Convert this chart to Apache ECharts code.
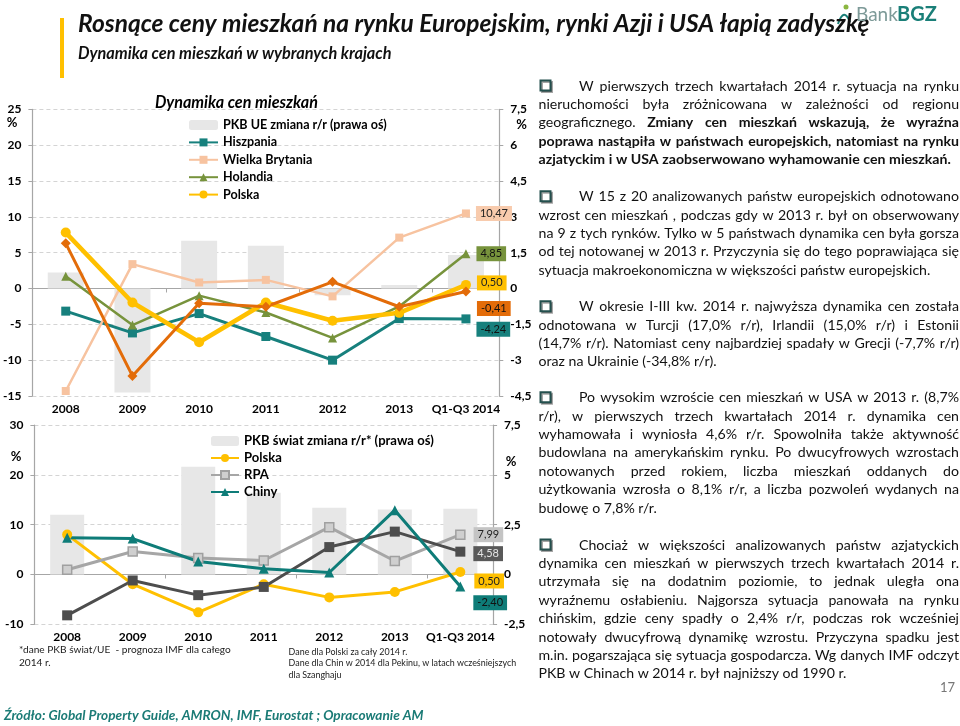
<!DOCTYPE html>
<html><head><meta charset="utf-8">
<script src="https://cdn.jsdelivr.net/npm/echarts@6/dist/echarts.min.js"></script>
<style>html,body{margin:0;padding:0;background:#fff}#c{width:960px;height:726px}</style>
</head><body><div id="c"></div>
<script>
// ---------------- DATA ----------------
const categories = ['2008','2009','2010','2011','2012','2013','Q1-Q3 2014'];
// Top chart (left axis %, bars on right axis %)
const pkbUE      = [0.67, -4.35, 2.0, 1.79, -0.28, 0.15, 1.4];
const hiszpania  = [-3.16, -6.2, -3.5, -6.7, -10.0, -4.2, -4.24];
const wielkaBrytania = [-14.3, 3.4, 0.84, 1.2, -1.1, 7.1, 10.47];
const holandia   = [1.7, -5.1, -1.0, -3.35, -6.9, -2.5, 4.85];
const polskaEU   = [7.8, -1.95, -7.5, -1.95, -4.5, -3.4, 0.50];
const seriaPomaranczowa = [6.3, -12.2, -2.05, -2.55, 0.93, -2.55, -0.41];
// Bottom chart
const pkbSwiat   = [3.0, 0, 5.4, 4.1, 3.35, 3.26, 3.3];
const polskaSw   = [8.0, -1.95, -7.6, -1.95, -4.6, -3.5, 0.50];
const rpa        = [0.94, 4.6, 3.3, 2.8, 9.5, 2.7, 7.99];
const seriaSzara = [-8.2, -1.2, -4.15, -2.5, 5.5, 8.6, 4.58];
const chiny      = [7.36, 7.2, 2.6, 1.14, 0.4, 12.9, -2.4];
// Axis ranges
const topLeftAxis = {min:-15, max:25, interval:5};
const topRightAxis = {min:-4.5, max:7.5, interval:1.5};
const botLeftAxis = {min:-10, max:30, interval:10};
const botRightAxis = {min:-2.5, max:7.5, interval:2.5};

// ---------------- TEXT ----------------
const titleText = 'Rosnące ceny mieszkań na rynku Europejskim, rynki Azji i USA łapią zadyszkę';
const subtitleText = 'Dynamika cen mieszkań w wybranych krajach';
const chartTitle = 'Dynamika cen mieszkań';
const sourceText = 'Źródło: Global Property Guide, AMRON, IMF, Eurostat ; Opracowanie AM';
const paragraphs = [
 {y0:86, lines:[
  [['W pierwszych trzech kwartałach 2014 r. sytuacja na rynku',0]],
  [['nieruchomości była zróżnicowana w zależności od regionu',0]],
  [['geograficznego.',0],['Zmiany cen mieszkań wskazują, że wyraźna',1]],
  [['poprawa nastąpiła w państwach europejskich, natomiast na rynku',1]],
  [['azjatyckim i w USA zaobserwowano wyhamowanie cen mieszkań.',1]]]},
 {y0:196.7, lines:[
  [['W 15 z 20 analizowanych państw europejskich odnotowano',0]],
  [['wzrost cen mieszkań , podczas gdy w 2013 r. był on obserwowany',0]],
  [['na 9 z tych rynków. Tylko w 5 państwach dynamika cen była gorsza',0]],
  [['od tej notowanej w 2013 r.  Przyczynia się do tego poprawiająca się',0]],
  [['sytuacja makroekonomiczna w większości państw europejskich.',0]]]},
 {y0:306.7, lines:[
  [['W okresie I-III kw. 2014 r. najwyższa dynamika cen została',0]],
  [['odnotowana w Turcji (17,0% r/r), Irlandii (15,0% r/r) i Estonii',0]],
  [['(14,7% r/r). Natomiast ceny najbardziej spadały w Grecji (-7,7% r/r)',0]],
  [['oraz na Ukrainie (-34,8% r/r).',0]]]},
 {y0:397.7, lines:[
  [['Po wysokim wzroście cen mieszkań w USA w 2013 r. (8,7%',0]],
  [['r/r), w  pierwszych trzech kwartałach 2014 r. dynamika cen',0]],
  [['wyhamowała i wyniosła 4,6% r/r. Spowolniła także aktywność',0]],
  [['budowlana na amerykańskim rynku. Po dwucyfrowych wzrostach',0]],
  [['notowanych przed rokiem, liczba mieszkań oddanych do',0]],
  [['użytkowania wzrosła o 8,1% r/r, a liczba pozwoleń wydanych na',0]],
  [['budowę o 7,8% r/r.',0]]]},
 {y0:545, lines:[
  [['Chociaż w większości analizowanych państw azjatyckich',0]],
  [['dynamika cen mieszkań w pierwszych trzech kwartałach 2014 r.',0]],
  [['utrzymała się na dodatnim poziomie, to jednak  uległa ona',0]],
  [['wyraźnemu osłabieniu. Najgorsza sytuacja panowała na rynku',0]],
  [['chińskim, gdzie ceny spadły o 2,4% r/r, podczas rok wcześniej',0]],
  [['notowały dwucyfrową dynamikę wzrostu. Przyczyna spadku jest',0]],
  [['m.in. pogarszająca się sytuacja gospodarcza. Wg danych IMF odczyt',0]],
  [['PKB w Chinach w 2014 r. był najniższy od 1990 r.',0]]]}
];

// ---------------- HELPERS ----------------
const FF = 'Lato, "Open Sans", "DejaVu Sans", sans-serif';
const cv = document.createElement('canvas').getContext('2d');
function tw(t, size, weight, style){ cv.font = (style||'normal')+' '+(weight||'normal')+' '+size+'px Lato'; return cv.measureText(t).width; }
function fit(t, target, weight, style){ return 20*target/tw(t,20,weight,style); }
const fmt2 = v => v.toFixed(2).replace('.', ',');
const fmtAx = v => String(v).replace('.', ',');

const axisFs = 12;
const yAxisFs = 12;
const bodyFs = fit('sytuacja makroekonomiczna w większości państw europejskich.', 392);

function txt(text, x, y, size, opts){
  opts = opts||{};
  return {type:'text', x:x, y:y, z:50, silent:true, style:{text:text, fontSize:size, fontFamily:FF,
    fontWeight:opts.weight||'normal', fontStyle:opts.style||'normal', fill:opts.fill||'#000',
    align:opts.align||'left', verticalAlign:'middle'}};
}

function buildLine(segs, x0, x1, y, justify){
  const words = [];
  segs.forEach(s => s[0].split(/\s+/).filter(Boolean).forEach(w => words.push([w, s[1]])));
  const widths = words.map(w => tw(w[0], bodyFs, w[1]?'bold':'normal'));
  const sum = widths.reduce((a,b)=>a+b,0);
  const W = x1 - x0;
  const sp = tw(' ', bodyFs);
  let gap = (justify && words.length>1) ? (W-sum)/(words.length-1) : sp;
  if (gap < sp*0.5) gap = sp*0.5;
  const total = sum + gap*(words.length-1);
  const scale = total > W ? W/total : 1;
  const text = words.map((w,i) => (i ? '{g| }' : '') + '{' + (w[1]?'b':'n') + '|' + w[0] + '}').join('');
  return {type:'text', x:x0, y:y, scaleX:scale, z:50, silent:true, style:{text:text, fontSize:bodyFs, fontFamily:FF, fill:'#111', verticalAlign:'middle',
    rich:{n:{fontSize:bodyFs, fontFamily:FF, fill:'#111', color:'#111'},
          b:{fontSize:bodyFs, fontFamily:FF, fontWeight:'bold', fill:'#111', color:'#111'},
          g:{fontSize:bodyFs, fontFamily:FF, width:gap}}}};
}

const graphics = [];
// header
graphics.push({type:'rect', shape:{x:60, y:18, width:4, height:60}, style:{fill:'#ffc000'}, silent:true});
graphics.push(txt(titleText, 78, 24, fit(titleText, 792, 'bold', 'italic'), {weight:'bold', style:'italic', fill:'#111'}));
graphics.push(txt(subtitleText, 78, 54, fit(subtitleText, 314, 'bold', 'italic'), {weight:'bold', style:'italic', fill:'#111'}));
// logo
graphics.push({type:'circle', shape:{cx:846, cy:7, r:2.5}, style:{fill:'#8bb640'}, silent:true});
graphics.push({type:'bezierCurve', shape:{x1:838, y1:24, x2:850, y2:22, cpx1:842, cpy1:12, cpx2:846, cpy2:12}, style:{stroke:'#1a7f78', lineWidth:2, fill:null}, silent:true});
graphics.push(txt('Bank', 856, 15, 19, {fill:'#7d9a98'}));
graphics.push(txt('BGZ', 897, 15, 20, {weight:'bold', fill:'#1a7f78'}));
// chart annotations
graphics.push(txt(chartTitle, 155, 103, fit(chartTitle, 163, 'bold', 'italic'), {weight:'bold', style:'italic'}));
graphics.push(txt('%', 12, 123.3, yAxisFs+1, {weight:'bold', align:'center'}));
graphics.push(txt('%', 521.5, 125, yAxisFs+1, {weight:'bold', align:'center'}));
graphics.push(txt('%', 16, 457, yAxisFs+1, {weight:'bold', align:'center'}));
graphics.push(txt('%', 511, 461.7, yAxisFs+1, {weight:'bold', align:'center'}));
const fn1 = '*dane PKB świat/UE  - prognoza IMF dla całego';
const fnSize = fit(fn1, 212);
graphics.push(txt(fn1, 19, 650, fnSize, {fill:'#222'}));
graphics.push(txt('2014 r.', 19, 663, fnSize, {fill:'#222'}));
const fn3 = 'Dane dla Chin w 2014 dla Pekinu, w latach wcześniejszych';
const fn3Size = fit(fn3, 228);
graphics.push(txt('Dane dla Polski za cały 2014 r.', 288.6, 652, fn3Size, {fill:'#222'}));
graphics.push(txt(fn3, 288.6, 663.5, fn3Size, {fill:'#222'}));
graphics.push(txt('dla Szanghaju', 288.6, 675, fn3Size, {fill:'#222'}));
graphics.push(txt(sourceText, 4, 716, fit(sourceText, 420, 'bold', 'italic'), {weight:'bold', style:'italic', fill:'#1b7b76'}));
graphics.push(txt('17', 955, 688, 13, {fill:'#777', align:'right'}));
// right text block
const LH = 18.4;
paragraphs.forEach(p => {
  graphics.push({type:'rect', shape:{x:540.5, y:p.y0-5.5, width:10, height:10}, style:{fill:'#fff', stroke:'#24504e', lineWidth:2, shadowColor:'rgba(0,0,0,0.35)', shadowOffsetX:1.5, shadowOffsetY:1.5}, silent:true});
  p.lines.forEach((segs, i) => {
    const last = i === p.lines.length - 1;
    graphics.push(buildLine(segs, i===0 ? 579 : 538.5, 959, p.y0 + i*LH, !last));
  });
});

// ---------------- CHART ----------------
function endLbl(bg, color, dist, dy){
  return {show:true, position:'right', distance:dist, offset:[0,dy], formatter:p => fmt2(p.value),
    backgroundColor:bg, color:color, padding:[2,4,2,4], fontSize:11, lineHeight:11, fontFamily:FF};
}
const withEnd = (arr, lbl) => arr.map((v,i) => i === arr.length-1 ? {value:v, label:lbl} : v);
function lineSeries(name, data, gi, color, symbol, symSize, width, lbl, symColor, symBorder){
  return {name:name, type:'line', xAxisIndex:gi*2, yAxisIndex:gi*2, data:withEnd(data, lbl),
    symbol:symbol, symbolSize:symSize, showSymbol:true,
    lineStyle:{color:color, width:width}, itemStyle:{color:symColor||color, borderColor:symBorder||color, borderWidth:symBorder?1.5:0},
    emphasis:{disabled:true}, z:3};
}
function xAxes(gi, margin){
  return [
    {gridIndex:gi, type:'category', data:categories, position:'bottom', axisLine:{show:false, onZero:false}, axisTick:{show:false},
     axisLabel:{interval:0, fontWeight:'bold', fontSize:axisFs, fontFamily:FF, color:'#000', margin:margin}},
    {gridIndex:gi, type:'category', data:categories, position:'bottom', axisLine:{show:true, onZero:true, lineStyle:{color:'#a6a6a6', width:1.2}},
     axisTick:{show:true, length:4, lineStyle:{color:'#a6a6a6'}}, axisLabel:{show:false}}
  ];
}
function yAx(gi, pos, r, margin, split){
  return {gridIndex:gi, type:'value', position:pos, min:r.min, max:r.max, interval:r.interval,
    axisLine:{show:true, lineStyle:{color:'#a6a6a6', width:1.2}}, axisTick:{show:true, length:4, lineStyle:{color:'#a6a6a6'}},
    axisLabel:{fontWeight:'bold', fontSize:yAxisFs, fontFamily:FF, color:'#000', margin:margin, formatter:fmtAx},
    splitLine:{show:split, lineStyle:{color:'#d4d4d4', type:[4,3], width:1}}};
}
const legTop = fit('PKB UE zmiana r/r (prawa oś)', 164, 'bold');
const legBot = fit('PKB świat zmiana r/r* (prawa oś)', 190, 'bold');

const teal = '#17807d', peach = '#f7c3a0', olive = '#77933c', yellow = '#ffc000', orange = '#e36c09';
const option = {
  animation:false,
  backgroundColor:'#ffffff',
  grid:[{left:30.3, top:109.3, width:469, height:286.7}, {left:34.4, top:425, width:458.7, height:199.3}],
  xAxis:[].concat(xAxes(0, 7), xAxes(1, 7)),
  yAxis:[yAx(0,'left',topLeftAxis,11,true), yAx(0,'right',topRightAxis,11,false),
         yAx(1,'left',botLeftAxis,11,true), yAx(1,'right',botRightAxis,11,false)],
  legend:[
    {orient:'vertical', left:188, top:116.3, padding:0, itemGap:0, itemWidth:29, itemHeight:10, selectedMode:false,
     textStyle:{fontWeight:'bold', fontSize:legTop, fontFamily:FF, color:'#000', lineHeight:17.4},
     data:['PKB UE zmiana r/r (prawa oś)','Hiszpania','Wielka Brytania','Holandia','Polska']},
    {orient:'vertical', left:210, top:432.5, padding:0, itemGap:0, itemWidth:28, itemHeight:10, selectedMode:false,
     textStyle:{fontWeight:'bold', fontSize:legBot, fontFamily:FF, color:'#000', lineHeight:17},
     data:['PKB świat zmiana r/r* (prawa oś)','Polska ','RPA','Chiny']}
  ],
  series:[
    {name:'PKB UE zmiana r/r (prawa oś)', type:'bar', xAxisIndex:0, yAxisIndex:1, data:pkbUE, barWidth:36, itemStyle:{color:'#e7e7e7'}, z:1, emphasis:{disabled:true}},
    lineSeries('Hiszpania', hiszpania, 0, teal, 'rect', 9, 3, endLbl(teal,'#111',6,10.4)),
    lineSeries('Wielka Brytania', wielkaBrytania, 0, peach, 'rect', 8, 2.5, endLbl('#f8cbad','#222',6,0)),
    lineSeries('Holandia', holandia, 0, olive, 'triangle', 9, 2.5, endLbl(olive,'#111',6,0)),
    lineSeries('Polska', polskaEU, 0, yellow, 'circle', 10, 4.5, endLbl(yellow,'#222',6,-2)),
    lineSeries('Seria 5', seriaPomaranczowa, 0, orange, 'diamond', 10, 3, endLbl(orange,'#111',6,17)),
    {name:'PKB świat zmiana r/r* (prawa oś)', type:'bar', xAxisIndex:2, yAxisIndex:3, data:pkbSwiat, barWidth:34, itemStyle:{color:'#e7e7e7'}, z:1, emphasis:{disabled:true}},
    lineSeries('Polska ', polskaSw, 1, yellow, 'circle', 10, 3, endLbl(yellow,'#222',9,9)),
    lineSeries('RPA', rpa, 1, '#a6a6a6', 'rect', 9, 3, endLbl('#c4c4c4','#222',8,0), '#cfcfcf', '#a0a0a0'),
    lineSeries('Seria 4', seriaSzara, 1, '#4d4d4d', 'rect', 10, 3, endLbl('#595959','#e6e6e6',8,2)),
    lineSeries('Chiny', chiny, 1, '#0e7c78', 'triangle', 10, 3, endLbl('#0e7c78','#111',8,16.4))
  ],
  graphic:graphics
};
const chart = echarts.init(document.getElementById('c'), null, {renderer:'canvas'});
chart.setOption(option);
</script>
</body></html>
